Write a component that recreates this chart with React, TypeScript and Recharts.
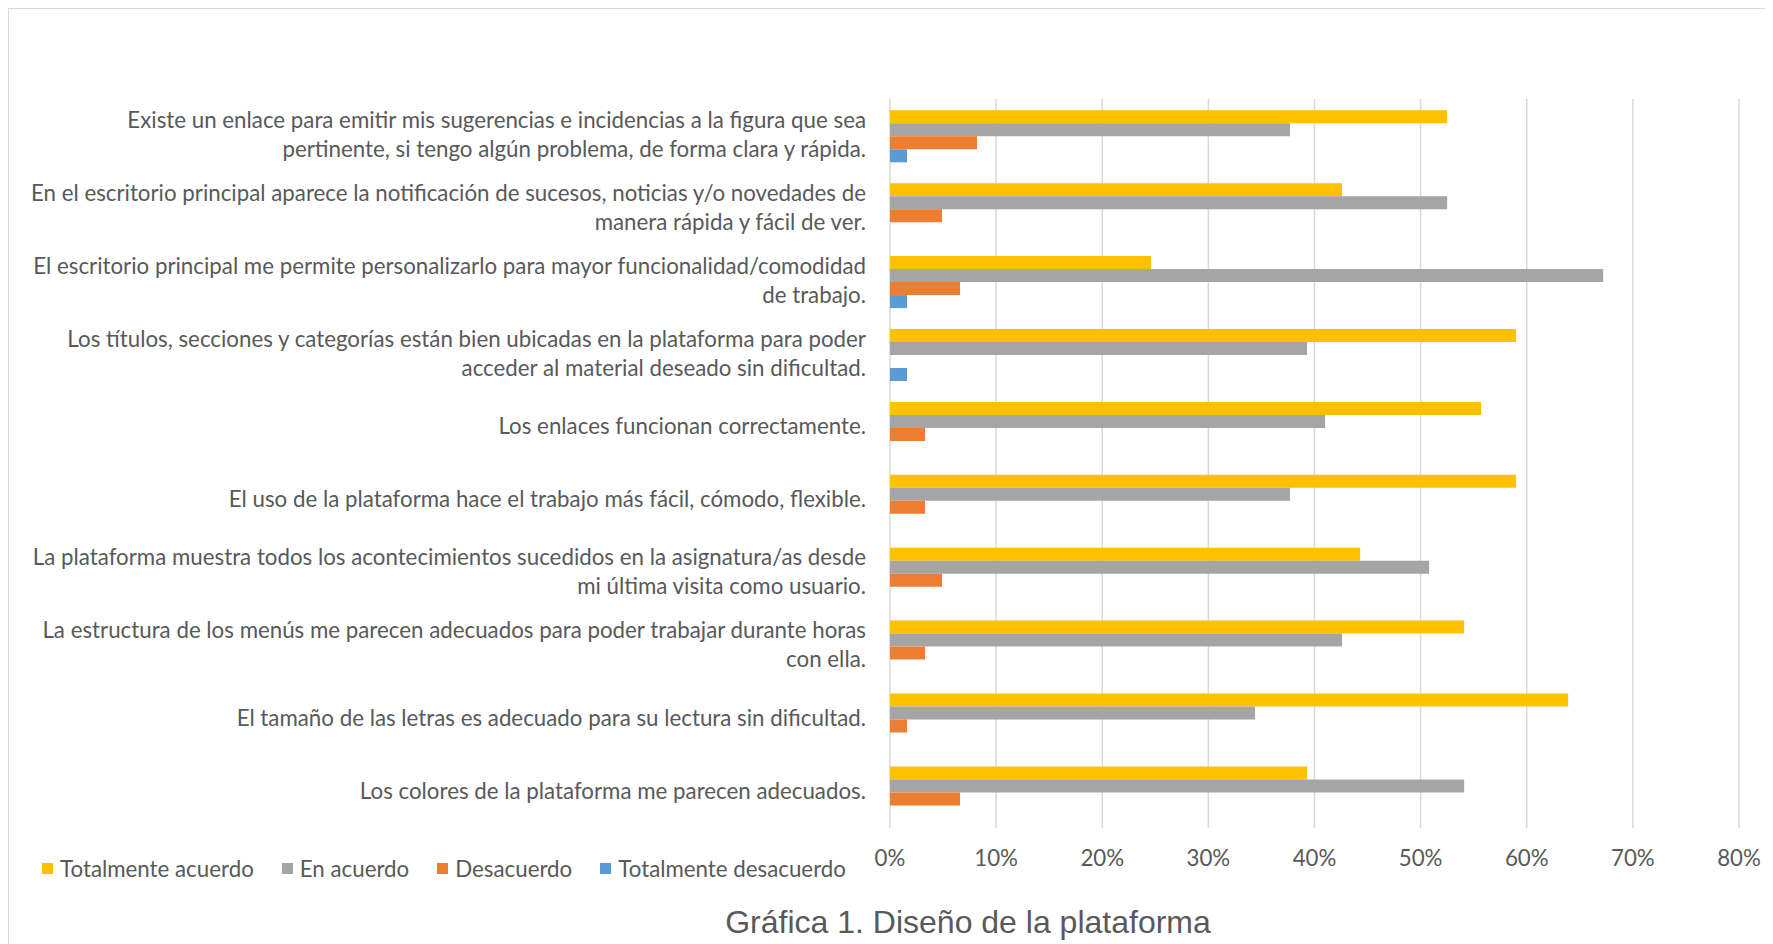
import { BarChart, Bar, XAxis, YAxis, CartesianGrid } from 'recharts'

// preguntas (de arriba a abajo), los saltos de línea como en el original
const categories = [
    'Existe un enlace para emitir mis sugerencias e incidencias a la figura que sea\npertinente, si tengo algún problema, de forma clara y rápida.',
    'En el escritorio principal aparece la notificación de sucesos, noticias y/o novedades de\nmanera rápida y fácil de ver.',
    'El escritorio principal me permite personalizarlo para mayor funcionalidad/comodidad\nde trabajo.',
    'Los títulos, secciones y categorías están bien ubicadas en la plataforma para poder\nacceder al material deseado sin dificultad.',
    'Los enlaces funcionan correctamente.',
    'El uso de la plataforma hace el trabajo más fácil, cómodo, flexible.',
    'La plataforma muestra todos los acontecimientos sucedidos en la asignatura/as desde\nmi última visita como usuario.',
    'La estructura de los menús me parecen adecuados para poder trabajar durante horas\ncon ella.',
    'El tamaño de las letras es adecuado para su lectura sin dificultad.',
    'Los colores de la plataforma me parecen adecuados.',
]

const totalmenteAcuerdo = [52.5, 42.6, 24.6, 59.0, 55.7, 59.0, 44.3, 54.1, 63.9, 39.3]
const enAcuerdo = [37.7, 52.5, 67.2, 39.3, 41.0, 37.7, 50.8, 42.6, 34.4, 54.1]
const desacuerdo = [8.2, 4.9, 6.6, 0, 3.3, 3.3, 4.9, 3.3, 1.6, 6.6]
const totalmenteDesacuerdo = [1.6, 0, 1.6, 1.6, 0, 0, 0, 0, 0, 0]

const xTicks = [0, 10, 20, 30, 40, 50, 60, 70, 80]

const series = [
    { key: 'ta', name: 'Totalmente acuerdo', color: '#FFC000' },
    { key: 'ea', name: 'En acuerdo', color: '#A5A5A5' },
    { key: 'de', name: 'Desacuerdo', color: '#ED7D31' },
    { key: 'td', name: 'Totalmente desacuerdo', color: '#5B9BD5' },
]

const data = categories.map((label, i) => ({
    label,
    ta: totalmenteAcuerdo[i],
    ea: enAcuerdo[i],
    de: desacuerdo[i],
    td: totalmenteDesacuerdo[i],
}))

const FONT = 'Lato, "Open Sans", sans-serif'
const TEXT = '#595959'
const FS = 22.3

const CategoryTick = (props: any) => {
    const { x, y, payload } = props
    const lines = String(payload.value).split('\n')
    const lh = 29
    const first = -((lines.length - 1) * lh) / 2
    return (
        <text x={x} y={y - 2} textAnchor="end" fill={TEXT} fontSize={FS} fontFamily={FONT} dominantBaseline="central">
            {lines.map((l, i) => (
                <tspan key={i} x={x} dy={i === 0 ? first : lh}>{l}</tspan>
            ))}
        </text>
    )
}

const App = () => {
    return (
        <div style={{
            position: 'relative', width: 1765, height: 936, boxSizing: 'border-box',
            borderTop: '1px solid #d9d9d9', borderLeft: '1px solid #d9d9d9', background: '#fff',
        }}>
            <BarChart
                width={1764}
                height={900}
                data={data}
                layout="vertical"
                margin={{ top: 90, right: 34, bottom: 41, left: 0 }}
                barCategoryGap="15.5%"
                barGap={0}
            >
                <CartesianGrid horizontal={false} stroke="#d9d9d9" strokeWidth={1.5} />
                <XAxis
                    type="number"
                    domain={[0, 80]}
                    ticks={xTicks}
                    tickFormatter={(v) => `${v}%`}
                    axisLine={false}
                    tickLine={false}
                    tickSize={0}
                    tickMargin={22}
                    height={40}
                    tick={{ fill: TEXT, fontSize: FS, fontFamily: FONT }}
                />
                <YAxis
                    type="category"
                    dataKey="label"
                    width={881}
                    axisLine={false}
                    tickLine={false}
                    tickSize={0}
                    tickMargin={24}
                    interval={0}
                    tick={<CategoryTick />}
                />
                {series.map((s) => (
                    <Bar key={s.key} dataKey={s.key} name={s.name} fill={s.color} isAnimationActive={false} />
                ))}
            </BarChart>
            {/* leyenda abajo a la izquierda, como en Excel */}
            <div style={{
                position: 'absolute', left: 33, top: 846, display: 'flex', alignItems: 'center',
                fontFamily: FONT, fontSize: FS, color: TEXT,
            }}>
                {series.map((s) => (
                    <div key={s.key} style={{ display: 'flex', alignItems: 'center', marginRight: 28 }}>
                        <span style={{ width: 11, height: 11, background: s.color, marginRight: 7, display: 'inline-block' }} />
                        <span>{s.name}</span>
                    </div>
                ))}
            </div>
            <div style={{
                position: 'absolute', left: 0, width: 1918, top: 895, textAlign: 'center',
                fontFamily: '"Liberation Sans", Arial, sans-serif', fontSize: 32, color: TEXT,
            }}>
                Gráfica 1. Diseño de la plataforma
            </div>
        </div>
    )
}

export default App
